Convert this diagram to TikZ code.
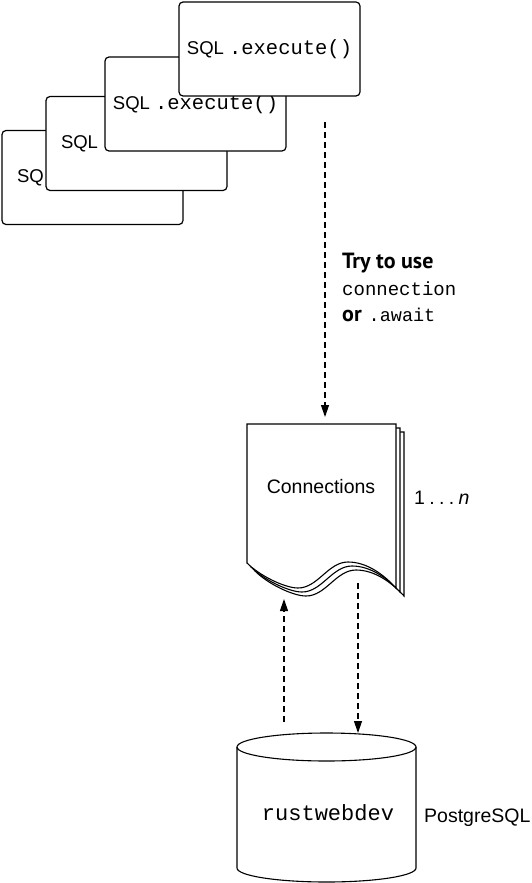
\documentclass[tikz,border=0pt]{standalone}
\usepackage{fontspec}
\setmainfont{Liberation Sans}
\setsansfont{Liberation Sans}
\setmonofont{Liberation Mono}
\newfontfamily\labelfont{PT Sans}
\usetikzlibrary{arrows.meta}
\newcommand{\sqltext}{{\fontsize{18.5}{22}\selectfont SQL \ttfamily\fontsize{20.5}{22}\selectfont .execute()}}
\newcommand{\docpath}{(247,424) -- (396,424) -- (396,588) .. controls (385,576) and (368,562) .. (348,562) .. controls (328,562) and (318,588) .. (298,588) .. controls (285,588) and (260,576) .. (247,563) -- cycle}
\newcommand{\dotgap}{\hspace{4.3pt}}
\begin{document}
\begin{tikzpicture}[x=1pt,y=-1pt,
  sqlbox/.style={draw, line width=1.2pt, fill=white, rounded corners=4pt, minimum width=181pt, minimum height=94pt, inner sep=0pt},
  backbox/.style={sqlbox, text width=151pt, align=left, font=\fontsize{18.5}{22}\selectfont},
  docline/.style={draw, line width=1.1pt, fill=white},
  dasharrow/.style={line width=1.2pt, dash pattern=on 6pt off 4pt, -{Triangle[length=12pt,width=8pt]}},
  txt/.style={inner sep=0pt, font=\fontsize{19.5}{23}\selectfont},
  mono/.style={inner sep=0pt, font=\ttfamily\fontsize{19}{23}\selectfont},
  boldlab/.style={font=\labelfont\bfseries\fontsize{22}{26}\selectfont}]
\useasboundingbox (0,0) rectangle (531,883);
% stacked SQL boxes
\node[backbox] (b1) at (92.5,177.5) {SQ};
\node[backbox] (b2) at (136.5,143.5) {SQL};
\node[sqlbox] (b3) at (195.5,104) {\sqltext};
\node[sqlbox] (b4) at (269.5,49) {\sqltext};
% connections document stack
\begin{scope}[shift={(8,8)}]
  \path[docline] \docpath;
\end{scope}
\begin{scope}[shift={(4,4)}]
  \path[docline] \docpath;
\end{scope}
\path[docline] \docpath;
\node[txt, anchor=base] (conn) at (321,493) {Connections};
\node[txt, anchor=base west] (count) at (414,504) {1\dotgap.\dotgap.\dotgap.\dotgap\textit{n}};
% database cylinder
\draw[line width=1.1pt, fill=white] (237,747) -- (237,868) arc[start angle=180, end angle=0, x radius=89.5, y radius=14] -- (416,747);
\draw[line width=1.1pt] (326.5,747) ellipse [x radius=89.5, y radius=14];
\node[inner sep=0pt, anchor=base, font=\ttfamily\fontsize{22}{26}\selectfont] (db) at (328,820) {rustwebdev};
\node[txt, anchor=base west] (pg) at (424,822) {PostgreSQL};
% label
\node[inner sep=0pt, anchor=base west, boldlab] (try) at (342,268) {Try to use};
\node[mono, anchor=base west] (connword) at (342,295) {connection};
\node[inner sep=0pt, anchor=base west] (orline) at (342,321) {{\labelfont\bfseries\fontsize{22}{26}\selectfont or}\hspace{7pt}{\ttfamily\fontsize{18.5}{23}\selectfont .await}};
% connectors
\coordinate (qstart) at (325,122);
\coordinate (qend) at (325,417);
\coordinate (upstart) at (284,722);
\coordinate (upend) at (284,599);
\coordinate (dnstart) at (358,583);
\coordinate (dnend) at (358,733);
\draw[dasharrow] (qstart) -- (qend);
\draw[dasharrow] (upstart) -- (upend);
\draw[dasharrow] (dnstart) -- (dnend);
\end{tikzpicture}
\end{document}
